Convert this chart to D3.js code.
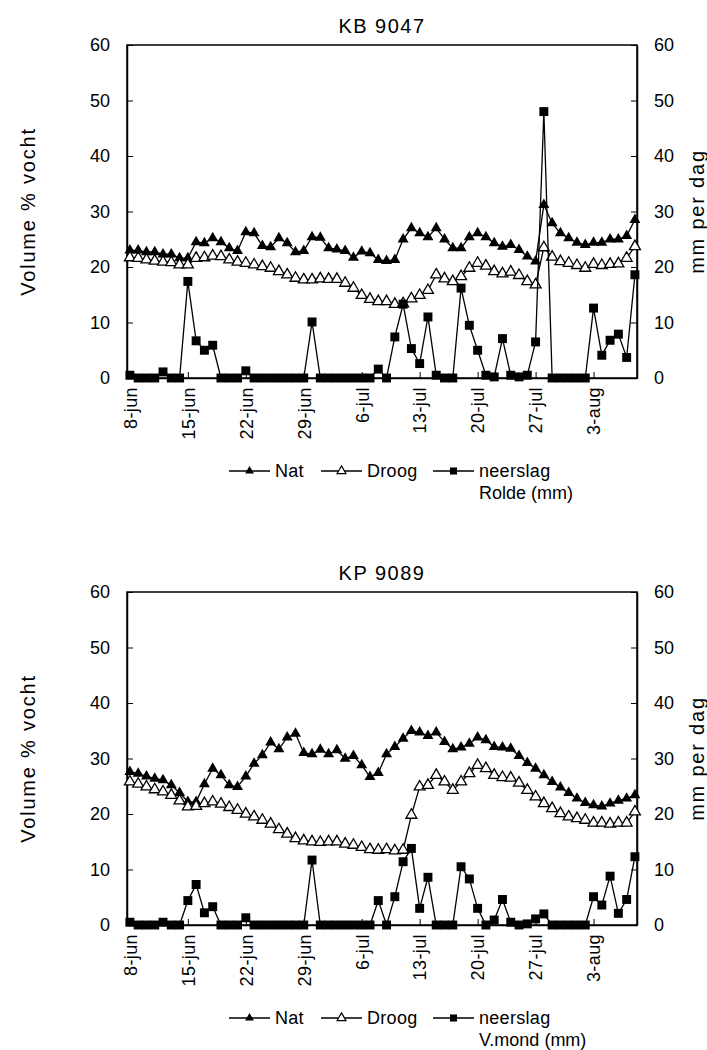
<!DOCTYPE html>
<html>
<head>
<meta charset="utf-8">
<script src="https://cdn.jsdelivr.net/npm/d3@7"></script>
<style>
  body { margin: 0; background: #fff; }
  text { font-family: "Liberation Sans", Arial, sans-serif; fill: #000; }
</style>
</head>
<body>
<div id="chart"></div>
<script>
// day index 0 = 8-jun ... 61 = 8-aug
var tickDays = [0, 7, 14, 21, 28, 35, 42, 49, 56];
var tickLabels = ["8-jun", "15-jun", "22-jun", "29-jun", "6-jul", "13-jul", "20-jul", "27-jul", "3-aug"];
var yTicks = [0, 10, 20, 30, 40, 50, 60];

// KB 9047
var kbNat = [23.0, 23.0, 22.7, 22.7, 22.3, 22.3, 21.6, 21.6, 24.5, 24.3, 25.2, 24.5, 23.4, 22.9, 26.3, 26.1,
  23.8, 23.6, 25.2, 24.3, 22.7, 22.9, 25.4, 25.3, 23.4, 23.2, 22.9, 21.7, 22.8, 22.5, 21.3, 21.1,
  21.3, 25.0, 27.0, 26.1, 25.4, 27.0, 25.0, 23.4, 23.4, 25.4, 26.1, 25.4, 24.3, 23.7, 24.0, 23.1,
  21.9, 21.0, 31.2, 27.9, 26.1, 25.2, 24.4, 24.0, 24.4, 24.4, 25.0, 25.0, 25.6, 28.5];
var kbDroog = [21.7, 21.6, 21.3, 21.1, 20.9, 20.8, 20.4, 20.4, 21.6, 21.7, 22.0, 21.9, 21.3, 20.9, 20.7, 20.4,
  20.1, 19.8, 19.2, 18.6, 18.0, 17.7, 17.7, 17.9, 17.8, 17.8, 17.1, 16.2, 14.9, 14.2, 13.8, 13.8,
  13.3, 13.4, 14.3, 14.9, 15.8, 18.6, 17.9, 17.4, 18.3, 19.8, 20.7, 20.2, 19.2, 18.8, 19.1, 18.5,
  17.4, 16.8, 23.5, 21.8, 21.0, 20.7, 20.3, 19.8, 20.5, 20.3, 20.5, 20.6, 21.6, 23.7];
var kbRain = [0.5, 0, 0, 0, 1.1, 0, 0, 17.4, 6.7, 5.0, 5.9, 0, 0, 0, 1.3, 0,
  0, 0, 0, 0, 0, 0, 10.1, 0, 0, 0, 0, 0, 0, 0, 1.6, 0,
  7.4, 13.3, 5.3, 2.6, 11.0, 0.5, 0, 0, 16.2, 9.5, 5.0, 0.5, 0.2, 7.1, 0.5, 0.2,
  0.5, 6.5, 48.0, 0, 0, 0, 0, 0, 12.6, 4.1, 6.8, 7.9, 3.7, 18.6];

// KP 9089
var kpNat = [27.6, 27.3, 26.8, 26.4, 26.1, 25.2, 23.8, 22.2, 22.2, 25.4, 28.2, 27.0, 25.2, 24.9, 26.8, 29.1,
  30.6, 32.9, 31.7, 33.8, 34.5, 31.0, 30.8, 31.6, 30.8, 31.5, 30.0, 30.5, 28.8, 26.7, 27.4, 30.8,
  32.1, 33.6, 35.0, 34.7, 34.1, 34.7, 33.0, 31.7, 32.0, 32.7, 33.8, 33.3, 32.1, 32.0, 31.8, 30.5,
  29.2, 28.2, 27.0, 25.8, 24.8, 23.8, 22.8, 22.0, 21.6, 21.4, 21.9, 22.4, 22.8, 23.4];
var kpDroog = [25.8, 25.4, 24.9, 24.4, 24.0, 23.4, 22.4, 21.3, 21.4, 21.9, 22.2, 21.8, 21.2, 20.7, 20.0, 19.5,
  18.9, 18.2, 17.2, 16.4, 15.6, 15.2, 15.0, 14.9, 15.0, 15.0, 14.6, 14.4, 14.0, 13.6, 13.5, 13.6,
  13.4, 13.5, 19.8, 24.9, 25.2, 27.0, 25.8, 24.3, 25.8, 27.3, 28.8, 28.2, 27.0, 26.6, 26.5, 25.6,
  24.3, 23.1, 21.9, 21.0, 20.1, 19.5, 19.2, 18.9, 18.4, 18.4, 18.2, 18.4, 18.4, 20.4];
var kpRain = [0.5, 0, 0, 0, 0.5, 0, 0, 4.4, 7.3, 2.2, 3.3, 0, 0, 0, 1.3, 0,
  0, 0, 0, 0, 0, 0, 11.7, 0, 0, 0, 0, 0, 0, 0, 4.4, 0,
  5.1, 11.4, 13.8, 3.0, 8.6, 0, 0, 0, 10.5, 8.3, 3.0, 0, 0.9, 4.6, 0.5, 0,
  0.2, 1.1, 2.0, 0, 0, 0, 0, 0, 5.1, 3.6, 8.8, 2.1, 4.6, 12.3];

var width = 707, height = 1050;
var svg = d3.select("#chart").append("svg")
  .attr("width", width)
  .attr("height", height);

var left = 127, right = 637;
var x = d3.scaleLinear().domain([-0.35, 61.25]).range([left, right]);

var triFilled = d3.symbol().type(d3.symbolTriangle).size(52);
var square = d3.symbol().type(d3.symbolSquare).size(80);

function drawChart(top, bottom, title, nat, droog, rain, rainLabel) {
  var y = d3.scaleLinear().domain([0, 60]).range([bottom, top]);
  var y2 = d3.scaleLinear().domain([0, 60]).range([bottom, top]);
  var g = svg.append("g");

  // frame
  g.append("rect")
    .attr("x", left).attr("y", top)
    .attr("width", right - left).attr("height", bottom - top)
    .attr("fill", "none").attr("stroke", "#000").attr("stroke-width", 1.5);

  // axes
  var yAxisL = g.append("g")
    .attr("transform", "translate(" + left + ",0)")
    .call(d3.axisLeft(y).tickValues(yTicks).tickSize(-6).tickSizeOuter(0).tickPadding(17));
  var yAxisR = g.append("g")
    .attr("transform", "translate(" + right + ",0)")
    .call(d3.axisRight(y2).tickValues(yTicks).tickSize(-6).tickSizeOuter(0).tickPadding(17));
  var xAxis = g.append("g")
    .attr("transform", "translate(0," + bottom + ")")
    .call(d3.axisBottom(x).tickValues(tickDays).tickSize(-6).tickSizeOuter(0)
      .tickFormat(function(d, i) { return tickLabels[i]; }));
  xAxis.selectAll("text")
    .attr("transform", "rotate(-90)")
    .attr("x", -9).attr("y", 0).attr("dy", "0.35em")
    .style("text-anchor", "end");

  [yAxisL, yAxisR].forEach(function(a) {
    a.selectAll("text").style("font-size", "18px").attr("font-family", null);
  });
  xAxis.selectAll("text").style("font-size", "18px").style("letter-spacing", "0.4px").attr("font-family", null);
  [yAxisL, yAxisR, xAxis].forEach(function(a) {
    a.select(".domain").attr("stroke-width", 1.5);
    a.selectAll(".tick line").attr("stroke-width", 1);
  });

  // titles
  g.append("text")
    .attr("x", 382).attr("y", top - 12)
    .attr("text-anchor", "middle")
    .style("font-size", "20px").style("letter-spacing", "1.5px")
    .text(title);
  g.append("text")
    .attr("transform", "translate(35," + ((top + bottom) / 2) + ") rotate(-90)")
    .attr("text-anchor", "middle")
    .style("font-size", "20px").style("letter-spacing", "1.8px")
    .text("Volume % vocht");
  g.append("text")
    .attr("transform", "translate(704," + ((top + bottom) / 2) + ") rotate(-90)")
    .attr("text-anchor", "middle")
    .style("font-size", "20px").style("letter-spacing", "1.8px")
    .text("mm per dag");

  var line = d3.line().x(function(d, i) { return x(i); });

  g.append("path").datum(nat)
    .attr("fill", "none").attr("stroke", "#000").attr("stroke-width", 1.3)
    .attr("d", line.y(function(d) { return y(d); }));
  g.selectAll(".nat").data(nat).enter().append("path")
    .attr("transform", function(d, i) { return "translate(" + x(i) + "," + y(d) + ")"; })
    .attr("d", triFilled).attr("fill", "#000");

  g.append("path").datum(droog)
    .attr("fill", "none").attr("stroke", "#000").attr("stroke-width", 1.3)
    .attr("d", line.y(function(d) { return y(d); }));
  g.selectAll(".droog").data(droog).enter().append("path")
    .attr("transform", function(d, i) { return "translate(" + x(i) + "," + y(d) + ")"; })
    .attr("d", triFilled).attr("fill", "#fff").attr("stroke", "#000").attr("stroke-width", 1.3);

  g.append("path").datum(rain)
    .attr("fill", "none").attr("stroke", "#000").attr("stroke-width", 1.3)
    .attr("d", line.y(function(d) { return y2(d); }));
  g.selectAll(".rain").data(rain).enter().append("path")
    .attr("transform", function(d, i) { return "translate(" + x(i) + "," + y2(d) + ")"; })
    .attr("d", square).attr("fill", "#000");

  // legend
  var ly = bottom + 93;
  var items = [
    {x0: 229, label: "Nat", fill: "#000"},
    {x0: 321, label: "Droog", fill: "#fff"},
    {x0: 433, label: "neerslag", fill: "#000"}
  ];
  items.forEach(function(it, k) {
    g.append("line")
      .attr("x1", it.x0).attr("x2", it.x0 + 41)
      .attr("y1", ly).attr("y2", ly)
      .attr("stroke", "#000").attr("stroke-width", 1.3);
    g.append("path")
      .attr("transform", "translate(" + (it.x0 + 20.5) + "," + ly + ")")
      .attr("d", k === 2 ? d3.symbol().type(d3.symbolSquare).size(50) : d3.symbol().type(d3.symbolTriangle).size(34))
      .attr("fill", it.fill).attr("stroke", "#000").attr("stroke-width", k === 1 ? 1.2 : 0);
    g.append("text")
      .attr("x", it.x0 + 46).attr("y", ly + 6)
      .style("font-size", "18px").style("letter-spacing", "0.3px")
      .text(it.label);
  });
  g.append("text")
    .attr("x", 479).attr("y", ly + 28)
    .style("font-size", "18px")
    .text(rainLabel);
}

drawChart(45, 378, "KB 9047", kbNat, kbDroog, kbRain, "Rolde (mm)");
drawChart(592, 925, "KP 9089", kpNat, kpDroog, kpRain, "V.mond (mm)");
</script>
</body>
</html>
